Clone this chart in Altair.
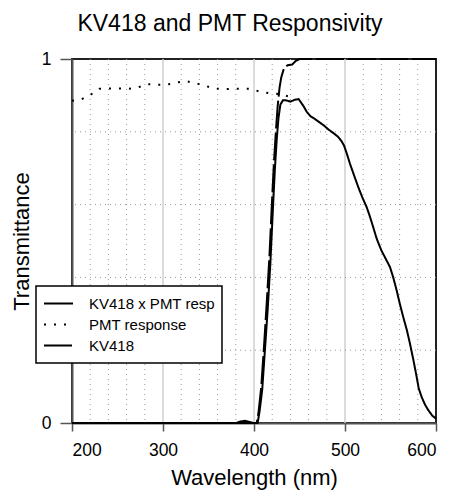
import altair as alt
import pandas as pd

# ---- data ----
kv_wl = [200, 300, 395, 403, 405, 408, 411, 414, 417, 420, 422, 424, 426, 428, 430, 433, 437, 442, 446, 450, 500, 600]
kv_val = [0, 0, 0, 0.0, 0.03, 0.10, 0.21, 0.33, 0.46, 0.62, 0.72, 0.80, 0.87, 0.92, 0.95, 0.975, 0.983, 0.985, 0.995, 1.0, 1.0, 1.0]

prod_wl = [200, 300, 380, 385, 390, 395, 400, 404, 406, 409, 412, 415, 418, 421, 423, 425, 427, 429, 432, 436, 440,
           445, 449, 454, 458, 462, 467, 472, 477, 482, 487, 492, 496, 499, 502, 505.5, 510, 514.6, 519, 523.8, 527,
           531, 535, 540, 545, 549.5, 553, 556.8, 560, 564, 568, 571.4, 575, 578.8, 581, 584.3, 588, 591.6, 596, 600]
prod_val = [0, 0, 0, 0.004, 0.006, 0.003, 0.0, 0.0, 0.03, 0.09, 0.2, 0.31, 0.44, 0.60, 0.70, 0.78, 0.84, 0.875, 0.887,
            0.886, 0.883, 0.888, 0.89, 0.872, 0.855, 0.843, 0.835, 0.826, 0.817, 0.806, 0.797, 0.787, 0.775, 0.762,
            0.74, 0.712, 0.68, 0.648, 0.62, 0.593, 0.57, 0.538, 0.505, 0.474, 0.45, 0.428, 0.40, 0.364, 0.33, 0.291,
            0.255, 0.218, 0.175, 0.126, 0.095, 0.071, 0.05, 0.035, 0.02, 0.012]

pmt_wl = [200, 210, 220, 230, 240, 250, 260, 270, 283, 293, 303, 313, 324, 334, 344, 354, 365, 375, 386, 396, 407,
          417, 427, 438]
pmt_val = [0.885, 0.889, 0.901, 0.918, 0.919, 0.919, 0.918, 0.92, 0.931, 0.929, 0.929, 0.934, 0.94, 0.934, 0.929,
           0.92, 0.917, 0.918, 0.918, 0.918, 0.91, 0.906, 0.904, 0.897]

series_order = ["KV418 x PMT resp", "PMT response", "KV418"]

x_ticks = [200, 300, 400, 500, 600]
y_ticks = [0, 1]
major_x_grid = [300, 400, 500]
minor_x_grid = [220, 240, 260, 280, 320, 340, 360, 380, 420, 440, 460, 480, 520, 540, 560, 580]
minor_y_grid = [0.2, 0.4, 0.6, 0.8]

rows = []
for w, v in zip(prod_wl, prod_val):
    rows.append({"series": series_order[0], "wl": w, "val": v})
for w, v in zip(pmt_wl, pmt_val):
    rows.append({"series": series_order[1], "wl": w, "val": v})
for w, v in zip(kv_wl, kv_val):
    rows.append({"series": series_order[2], "wl": w, "val": v})
df = pd.DataFrame(rows)

FONT = "Liberation Sans"
xscale = alt.Scale(domain=[200, 600], nice=False, zero=False)
yscale = alt.Scale(domain=[0, 1], nice=False)

xaxis = alt.Axis(values=x_ticks, grid=False, title="Wavelength (nm)", domainColor="#555", domainWidth=2,
                 tickColor="#555", tickWidth=1.5, tickSize=8, labelFontSize=17.5, labelFont=FONT,
                 labelPadding=10, titleFontSize=22, titleFont=FONT, titleFontWeight="normal",
                 titleColor="black", labelColor="black", titlePadding=9)
yaxis = alt.Axis(values=y_ticks, grid=False, title="Transmittance", format="d", domainColor="#555", domainWidth=2,
                 tickColor="#555", tickWidth=1.5, tickSize=12, labelFontSize=17.5, labelFont=FONT,
                 labelPadding=9, titleFontSize=22, titleFont=FONT, titleFontWeight="normal",
                 titleColor="black", labelColor="black", titlePadding=8)

minor_v = alt.Chart(pd.DataFrame({"x": minor_x_grid})).mark_rule(
    color="#999", strokeWidth=1, strokeDash=[1, 4]).encode(x=alt.X("x:Q", scale=xscale, axis=xaxis))
major_v = alt.Chart(pd.DataFrame({"x": major_x_grid})).mark_rule(
    color="#cfcfcf", strokeWidth=1.5).encode(x=alt.X("x:Q", scale=xscale))
minor_h = alt.Chart(pd.DataFrame({"y": minor_y_grid})).mark_rule(
    color="#999", strokeWidth=1, strokeDash=[1, 4]).encode(y=alt.Y("y:Q", scale=yscale, axis=yaxis))

lines = alt.Chart(df).mark_line(strokeWidth=2, clip=False).encode(
    x=alt.X("wl:Q", scale=xscale, axis=xaxis),
    y=alt.Y("val:Q", scale=yscale, axis=yaxis),
    color=alt.Color("series:N", scale=alt.Scale(domain=series_order, range=["black", "black", "black"]),
                    title=None),
    strokeDash=alt.StrokeDash("series:N", scale=alt.Scale(domain=series_order, range=[[1, 0], [2, 8], [28, 4]]),
                              title=None),
)

chart = alt.layer(minor_v, major_v, minor_h, lines).properties(
    width=364, height=364,
    title=alt.TitleParams("KV418 and PMT Responsivity", fontSize=23, font=FONT, fontWeight="normal",
                          color="black", offset=14, dx=-24),
    autosize=alt.AutoSizeParams(type="none"),
    padding={"left": 64, "top": 51, "right": 6, "bottom": 67},
).configure_view(stroke="#222", strokeWidth=2).configure_legend(
    orient="none", legendX=-36, legendY=227, strokeColor="black", fillColor="white", strokeWidth=1.5,
    padding=7, symbolType="stroke", symbolSize=841, symbolStrokeWidth=2, labelFontSize=15, labelFont=FONT,
    labelColor="black", labelOffset=15, rowPadding=0, clipHeight=21, cornerRadius=0
)

chart.save("out.html", embed_options={"renderer": "svg", "actions": False})
